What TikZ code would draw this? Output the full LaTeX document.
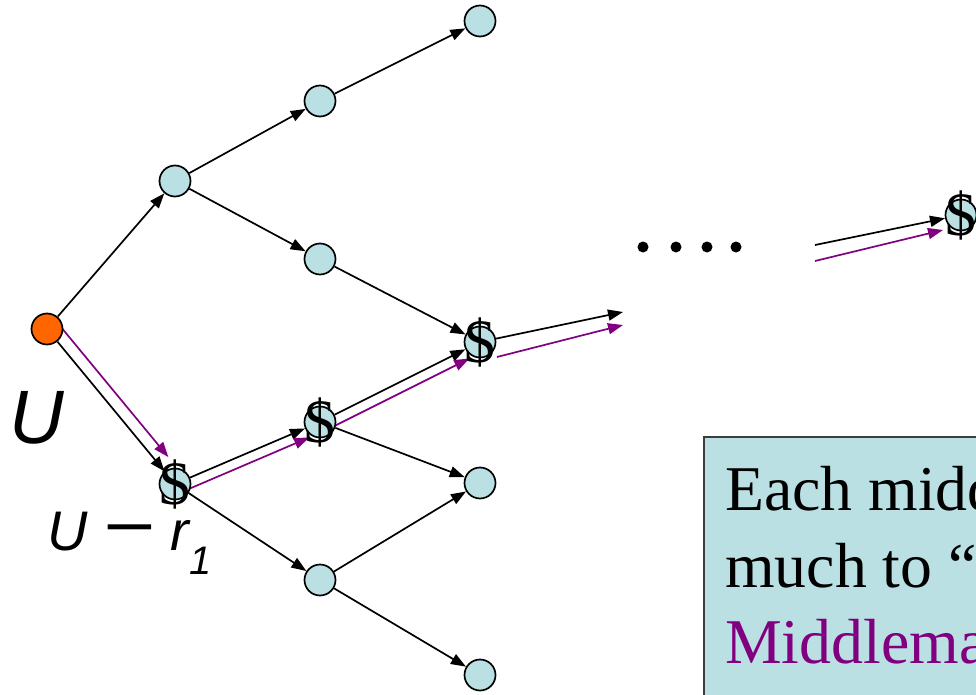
\documentclass[tikz,border=0pt]{standalone}
\usepackage{fontspec}
\setmainfont{Liberation Serif}
\newfontfamily\arialfont{Liberation Sans}
\usetikzlibrary{arrows.meta,calc}
\pgfdeclarelayer{background}
\pgfsetlayers{background,main}
\definecolor{nodeblue}{RGB}{187,224,227}
\definecolor{rootorange}{RGB}{255,102,0}
\definecolor{pathpurple}{RGB}{128,0,128}
\definecolor{boxborder}{RGB}{60,60,60}
\tikzset{
  tree/.style={circle, draw=black, line width=1.7bp, fill=nodeblue, minimum size=31bp, inner sep=0pt},
  rootnode/.style={tree, fill=rootorange},
  dollarsign/.style={inner sep=0pt, outer sep=0pt, font=\fontsize{62}{62}\selectfont},
  money/.style={tree, label={[dollarsign]center:\$}},
  edge/.style={line width=1.7bp, -{Triangle[length=15bp,width=11bp]}},
  pedge/.style={edge, color=pathpurple},
  boxtext/.style={inner sep=0pt, anchor=base west, font=\fontsize{64}{64}\selectfont},
  bigu/.style={inner sep=0pt, anchor=base west, font=\arialfont\itshape\fontsize{76}{76}\selectfont},
  smallu/.style={inner sep=0pt, anchor=base west, font=\arialfont\itshape\fontsize{56}{56}\selectfont},
}
\begin{document}
\begin{tikzpicture}[x=1bp,y=-1bp]
\useasboundingbox (0,0) rectangle (976,695);
\clip (0,0) rectangle (976,695);

% tree nodes
\node[rootnode] (r) at (47,329) {};
\node[tree] (a1) at (175,181) {};
\node[money] (a2) at (175,484) {};
\node[tree] (b1) at (320,101) {};
\node[tree] (b2) at (320,259) {};
\node[money] (b3) at (320,422) {};
\node[tree] (b4) at (320,580) {};
\node[tree] (c1) at (480,21) {};
\node[money] (c2) at (480,342) {};
\node[tree] (c3) at (480,483) {};
\node[tree] (c4) at (480,675) {};
\node[money] (d) at (961,215) {};

% free ends
\coordinate (o1) at (623,312);
\coordinate (o2s) at (497,357);
\coordinate (o2) at (623,325);
\coordinate (d1) at (815,245);
\coordinate (d2s) at (815,261);
\coordinate (d2) at (943,230);

\begin{pgfonlayer}{background}
  \draw[edge] (r) -- (a1);
  \draw[edge] (r) -- (a2);
  \draw[edge] (a1) -- (b1);
  \draw[edge] (a1) -- (b2);
  \draw[edge] (a2) -- (b3);
  \draw[edge] (a2) -- (b4);
  \draw[edge] (b1) -- (c1);
  \draw[edge] (b2) -- (c2);
  \draw[edge] (b3) -- (c2);
  \draw[edge] (b3) -- (c3);
  \draw[edge] (b4) -- (c3);
  \draw[edge] (b4) -- (c4);
  \draw[edge] (c2) -- (o1);
  \draw[edge] (d1) -- (d);
  % purple path
  \draw[pedge, shorten >=25bp] ($(r)!12bp!90:(a2)$) -- ($(a2)!12bp!-90:(r)$);
  \draw[pedge, shorten >=16bp] ($(a2)!10bp!-90:(b3)$) -- ($(b3)!10bp!90:(a2)$);
  \draw[pedge, shorten >=17bp] ($(b3)!10bp!-90:(c2)$) -- ($(c2)!10bp!90:(b3)$);
  \draw[pedge] (o2s) -- (o2);
  \draw[pedge] (d2s) -- (d2);
\end{pgfonlayer}

% ellipsis dots
\fill (643,247) circle (5.5bp);
\fill (676,247) circle (5.5bp);
\fill (707,247) circle (5.5bp);
\fill (736,247) circle (5.5bp);

% labels
\node[bigu] (ulab) at (9,443) {U};
\node[smallu] (urlab) at (47,550) {U \scalebox{1.6}[1.25]{−} r\raisebox{-24bp}{\fontsize{40}{40}\selectfont 1}};

% text box
\draw[fill=nodeblue, draw=boxborder, line width=1.5bp] (704,437) rectangle (995,715);
\node[boxtext] (t1) at (725,510) {Each midd};
\node[boxtext] (t2) at (725,587) {much to “};
\node[boxtext, text=pathpurple] (t3) at (725,663) {Middlema};
\end{tikzpicture}
\end{document}
